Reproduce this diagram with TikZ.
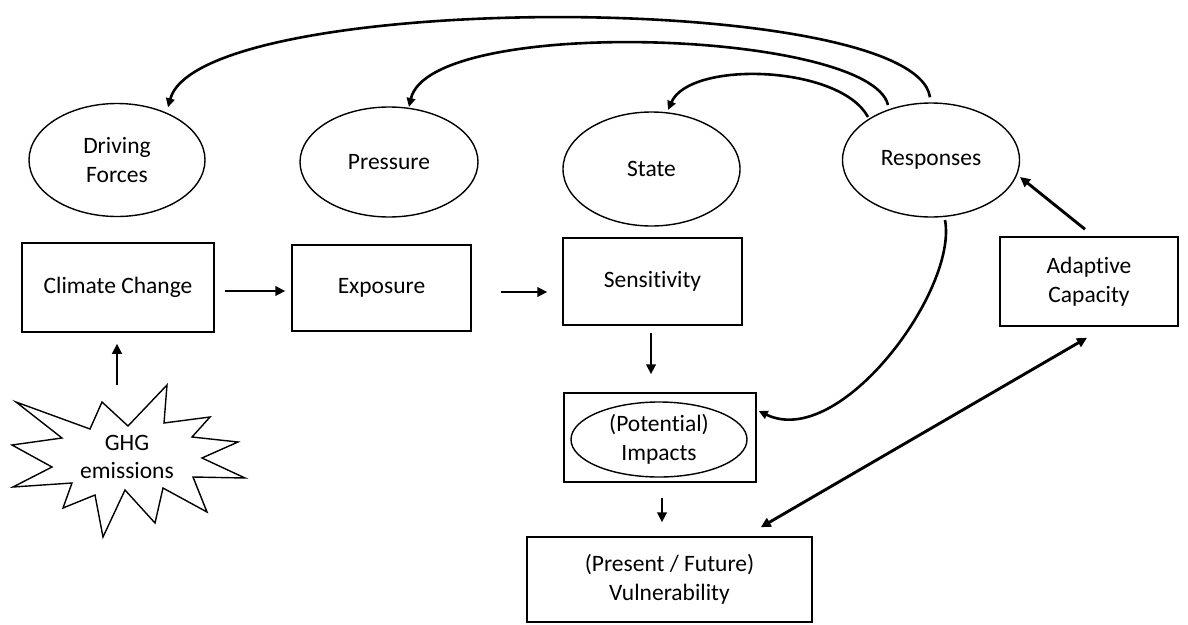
\documentclass[tikz,border=0pt]{standalone}
\usepackage{fontspec}
\setmainfont{Carlito}[Ligatures={NoCommon,NoRare},Contextuals=NoAlternate]
\newcommand{\nolig}{\kern0pt}
\usetikzlibrary{arrows.meta,shapes.geometric}
\begin{document}
\begin{tikzpicture}[x=1pt,y=-1pt,
  txt/.style={font=\fontsize{23.5}{28.5}\selectfont, align=center, inner sep=0pt},
  boxn/.style={txt, draw, line width=1.5pt, rectangle},
  elln/.style={txt, draw, line width=1.4pt, ellipse},
  arr/.style={line width=2.9pt, -{Triangle[length=10pt,width=9.5pt]}},
  darr/.style={line width=2.9pt, {Triangle[length=10pt,width=9.5pt]}-{Triangle[length=10pt,width=9.5pt]}},
  carr/.style={line width=2.6pt, -{Triangle[length=9pt,width=8.5pt]}},
]
\useasboundingbox (0,0) rectangle (1188,624);

% ellipses
\node[elln, minimum width=176pt, minimum height=113pt] (df) at (117,160) {Driving\\Forces};
\node[elln, minimum width=178pt, minimum height=110pt] (pr) at (389,162) {Pressure};
\node[elln, minimum width=177pt, minimum height=114pt] (st) at (651.5,169) {State};
\node[elln, minimum width=177pt, minimum height=114pt] (rs) at (931,160) {Responses};

% boxes
\node[boxn, minimum width=192pt, minimum height=89pt] (cc) at (118,287.5) {Climate Change};
\node[boxn, minimum width=179pt, minimum height=86pt] (ex) at (381.5,288) {Exposure};
\node[boxn, minimum width=179pt, minimum height=87pt] (se) at (652.5,281.5) {Sensit\nolig ivity};
\node[boxn, minimum width=178pt, minimum height=89pt] (ac) at (1089,281.5) {Adapt\nolig ive\\Capacity};
\node[boxn, minimum width=192pt, minimum height=89pt] (imp) at (660,437.5) {};
\node[elln, minimum width=176pt, minimum height=75pt] (impe) at (659,439.5) {(Potent\nolig ial)\\Impacts};
\node[boxn, minimum width=285pt, minimum height=85pt] (vu) at (669.5,579.5) {(Present / Future)\\Vulnerability};

% starburst
\draw[line width=1.4pt, line join=miter]
  (167,385) -- (164,423) -- (210,417) -- (192,437) -- (238,442) -- (202,458)
  -- (245,478) -- (193,477) -- (207,512) -- (163,488) -- (155,523) -- (125,490)
  -- (103,537) -- (95,495) -- (63,508) -- (72,483) -- (13,487) -- (52,467)
  -- (12,445) -- (62,438) -- (16,402) -- (90,429) -- (102,402) -- (128,426) -- cycle;
\node[txt] (ghg) at (127,457) {GHG\\emissions};
\coordinate (burst) at (117,385);

% straight arrows
\draw[arr, shorten >=11pt] (burst) -- ([xshift=-1pt]cc.south);
\draw[arr, shorten <=10pt, shorten >=6pt] ([yshift=-3.5pt]cc.east) -- ([yshift=-3pt]ex.west);
\draw[arr, shorten <=29pt, shorten >=15pt] ([yshift=-4pt]ex.east) -- ([yshift=-10.5pt]se.west);
\draw[arr, shorten <=7.5pt, shorten >=18pt] ([xshift=-1.5pt]se.south) -- ([xshift=-9pt]imp.north);
\draw[arr, shorten <=15pt, shorten >=14pt] ([xshift=2pt]imp.south) -- ([xshift=-7.5pt]vu.north);
\draw[arr] ([xshift=-4pt,yshift=7pt]ac.north) -- ([xshift=89pt,yshift=-17pt]rs.center);
\draw[darr] ([xshift=-52pt,yshift=9pt]vu.north east) -- ([xshift=-2pt,yshift=-11pt]ac.south);

% curved arrows from Responses
\draw[carr] ([xshift=-1pt,yshift=5pt]rs.north) .. controls (915,-10) and (200,-10) .. ([xshift=51pt,yshift=-4.5pt]df.north);
\draw[carr] ([xshift=-43pt,yshift=55pt]rs.center) .. controls (870,30) and (430,15) .. ([xshift=20pt,yshift=55pt]pr.center);
\draw[carr] ([xshift=-63pt,yshift=43pt]rs.center) .. controls (840,65) and (690,60) .. ([xshift=16.5pt,yshift=59pt]st.center);
\draw[carr] ([xshift=14pt,yshift=-60pt]rs.center) .. controls (958,290) and (840,450) .. ([xshift=2pt,yshift=26.5pt]imp.east);
\end{tikzpicture}
\end{document}
